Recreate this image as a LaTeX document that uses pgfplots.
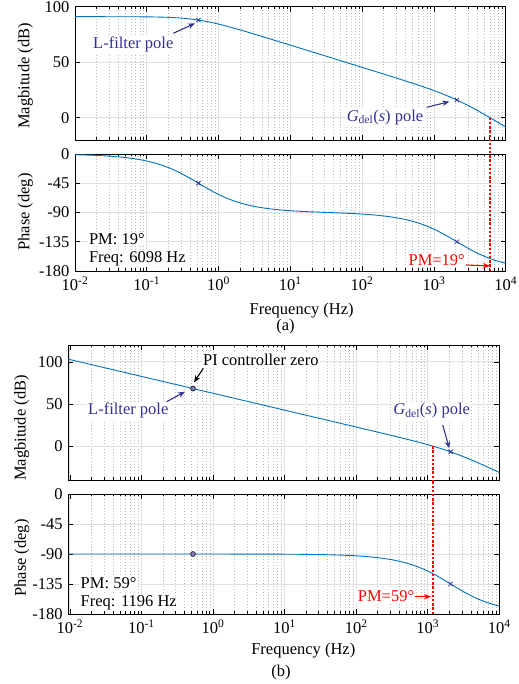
\documentclass[border=0pt]{standalone}
\usepackage{fontspec}
\setmainfont{Liberation Serif}
\usepackage{pgfplots}
\usepackage{pgfplotstable}
\pgfplotsset{compat=1.18}
\usetikzlibrary{arrows.meta}
\definecolor{mblue}{RGB}{0,114,189}
\definecolor{ablue}{RGB}{50,50,150}
\definecolor{pmred}{RGB}{255,0,0}

\pgfplotstableread{
f M P
0.01 91.00 -1.09
0.0104717 91.00 -1.14
0.0131826 91.00 -1.44
0.0165959 91.00 -1.81
0.0208931 90.99 -2.28
0.0263027 90.99 -2.87
0.0331131 90.98 -3.61
0.0416869 90.97 -4.54
0.052481 90.96 -5.71
0.066069 90.93 -7.18
0.083178 90.89 -9.01
0.104717 90.83 -11.29
0.131826 90.73 -14.11
0.165959 90.59 -17.55
0.208931 90.36 -21.71
0.263027 90.03 -26.63
0.331131 89.55 -32.26
0.416869 88.88 -38.47
0.52481 87.99 -45.01
0.66069 86.87 -51.55
0.83178 85.54 -57.77
1.04717 84.03 -63.41
1.31826 82.36 -68.33
1.65959 80.59 -72.50
2.08931 78.73 -75.96
2.63027 76.83 -78.79
3.31131 74.89 -81.08
4.16869 72.93 -82.94
5.2481 70.96 -84.43
6.6069 68.97 -85.64
8.3178 66.98 -86.62
10.4717 64.99 -87.42
13.1826 62.99 -88.08
16.5959 61.00 -88.64
20.8931 59.00 -89.13
26.3027 57.00 -89.58
33.1131 55.00 -90.00
41.6869 53.00 -90.42
52.481 51.00 -90.87
66.069 49.00 -91.36
83.178 46.99 -91.92
104.717 44.99 -92.58
131.826 42.98 -93.38
165.959 40.97 -94.36
208.931 38.96 -95.57
263.027 36.93 -97.06
331.131 34.89 -98.92
416.869 32.83 -101.21
524.81 30.73 -104.04
660.69 28.59 -107.50
831.78 26.36 -111.67
1047.17 24.03 -116.59
1318.26 21.55 -122.23
1659.59 18.88 -128.45
2089.31 15.99 -134.99
2630.27 12.88 -141.53
3311.31 9.55 -147.74
4168.69 6.03 -153.37
5248.1 2.36 -158.29
6606.9 -1.41 -162.45
8317.8 -5.27 -165.90
10000 -8.39 -168.20
}\tabA

\pgfplotstableread{
f M P
0.0095 103.22 -90.00
0.052481 88.38 -90.00
0.52481 68.38 -90.01
5.2481 48.38 -90.14
16.5959 38.38 -90.46
26.3027 34.38 -90.72
33.1131 32.38 -90.91
41.6869 30.38 -91.14
52.481 28.38 -91.44
66.069 26.38 -91.81
83.178 24.37 -92.28
104.717 22.37 -92.87
131.826 20.36 -93.61
165.959 18.35 -94.54
208.931 16.34 -95.71
263.027 14.31 -97.18
331.131 12.27 -99.01
416.869 10.21 -101.28
524.81 8.11 -104.10
660.69 5.97 -107.55
831.78 3.74 -111.71
1047.17 1.41 -116.62
1318.26 -1.08 -122.25
1659.59 -3.75 -128.46
2089.31 -6.63 -135.00
2630.27 -9.75 -141.54
3311.31 -13.08 -147.75
4168.69 -16.59 -153.38
5248.1 -20.26 -158.29
6606.9 -24.03 -162.45
8317.8 -27.89 -165.90
10000 -31.01 -168.20
}\tabB

\pgfplotsset{
  bode/.style={
    scale only axis, clip=false,
    axis line style={line width=0.8bp},
    every tick/.style={black, line width=0.6bp},
    major tick length=5bp, minor tick length=2.5bp,
    xmajorgrids, xminorgrids, ymajorgrids,
    major grid style={draw=black!12, line width=0.8bp},
    minor grid style={draw=black!27, line width=0.5bp, dash pattern=on 0.5bp off 2.5bp},
    xtick={0.01,0.1,1,10,100,1000,10000},
    minor xtick={0.02,0.03,0.04,0.05,0.06,0.07,0.08,0.09,0.2,0.3,0.4,0.5,0.6,0.7,0.8,0.9,2,3,4,5,6,7,8,9,20,30,40,50,60,70,80,90,200,300,400,500,600,700,800,900,2000,3000,4000,5000,6000,7000,8000,9000},
    xticklabels={},
  },
  flab/.style={xticklabels={10\textsuperscript{-2},10\textsuperscript{-1},10\textsuperscript{0},10\textsuperscript{1},10\textsuperscript{2},10\textsuperscript{3},10\textsuperscript{4}}},
  magy/.style={ytick={0,50,100}, yticklabels={0,50,100}},
  phay/.style={ymin=-180, ymax=0, ytick={-180,-135,-90,-45,0}, yticklabels={-180,-135,-90,-45,0}},
  bcurve/.style={color=mblue, line width=0.9bp, no marks},
  xmk/.style={color=ablue, only marks, mark=x, mark size=3bp, line width=0.8bp},
  omk/.style={only marks, mark=*, mark size=2.4bp, mark options={fill=ablue!60, draw=black!85, line width=0.8bp}},
  pml/.style={draw=pmred, color=pmred, line width=1.8bp, dash pattern=on 2.4bp off 1.8bp, no marks},
}
\tikzset{
  ann/.style={fill=white, inner sep=1.5bp},
  arr/.style={-{Stealth[length=7bp,width=5.5bp]}, line width=1.1bp},
}

\begin{document}
\fontsize{16.5bp}{19.8bp}\selectfont
\begin{tikzpicture}
\useasboundingbox (0,0) rectangle (519bp,684bp);
% (a) magnitude
\begin{axis}[xmode=log, bode, magy, at={(75bp,677.3bp)}, anchor=north west, width=430.7bp, height=133.3bp,
  xmin=0.01, xmax=10000, ymin=-20, ymax=100]
\addplot[bcurve] table[x=f,y=M]{\tabA};
\addplot[xmk] coordinates {(0.52481,87.99) (2089.31,15.99)};
\addplot[pml] coordinates {(6098,0) (6098,-20)};
\end{axis}
% (a) phase
\begin{axis}[xmode=log, bode, phay, flab, at={(75bp,530bp)}, anchor=north west, width=430.7bp, height=117bp,
  xmin=0.01, xmax=10000]
\addplot[bcurve] table[x=f,y=P]{\tabA};
\addplot[xmk] coordinates {(0.52481,-45.01) (2089.31,-134.99)};
\addplot[pml] coordinates {(6098,-180) (6098,21.5)};
\end{axis}
% (b) magnitude
\begin{axis}[xmode=log, bode, magy, at={(68.3bp,339bp)}, anchor=north west, width=431bp, height=135bp,
  xmin=0.0095, xmax=10000, ymin=-40, ymax=120]
\addplot[bcurve] table[x=f,y=M]{\tabB};
\addplot[omk] coordinates {(0.52481,68.38)};
\addplot[xmk] coordinates {(2089.31,-6.63)};
\addplot[pml] coordinates {(1196,0) (1196,-40)};
\end{axis}
% (b) phase
\begin{axis}[xmode=log, bode, phay, flab, at={(68.3bp,190bp)}, anchor=north west, width=431bp, height=120bp,
  xmin=0.0095, xmax=10000]
\addplot[bcurve] table[x=f,y=P]{\tabB};
\addplot[omk] coordinates {(0.52481,-90)};
\addplot[xmk] coordinates {(2089.31,-135)};
\addplot[pml] coordinates {(1196,-180) (1196,20.9)};
\end{axis}

% axis labels
\node[rotate=90] at (25.5bp,608.2bp) {Magbitude (dB)};
\node[rotate=90] at (25.5bp,472bp) {Phase (deg)};
\node[rotate=90] at (21.7bp,256bp) {Magbitude (dB)};
\node[rotate=90] at (22bp,126bp) {Phase (deg)};
\node at (301.7bp,373bp) {Frequency (Hz)};
\node at (285.5bp,357bp) {(a)};
\node at (303.3bp,33bp) {Frequency (Hz)};
\node at (281bp,11bp) {(b)};

% (a) annotations
\node[ann, text=ablue] at (133.3bp,640bp) {L-filter pole};
\draw[arr, ablue] (173.3bp,650.7bp) -- (195bp,660.7bp);
\node[ann, text=ablue] at (385bp,566.7bp) {\textit{G}\textsubscript{del}(\textit{s}) pole};
\draw[arr, ablue] (426.7bp,576.7bp) -- (449.3bp,582.3bp);
\node[ann, anchor=west] at (87.3bp,445bp) {PM: 19°};
\node[ann, anchor=west] at (87.3bp,425.7bp) {Freq: 6098 Hz};
\node[ann, text=pmred] at (436.7bp,424bp) {PM=19°};
\draw[arr, pmred] (466bp,419bp) -- (490bp,418bp);

% (b) annotations
\node[ann] at (260.8bp,324bp) {PI controller zero};
\draw[arr, black] (203.3bp,315.7bp) -- (194bp,301.7bp);
\node[ann, text=ablue] at (128.3bp,273.3bp) {L-filter pole};
\draw[arr, ablue] (166.7bp,282.3bp) -- (185bp,292.3bp);
\node[ann, text=ablue] at (431.7bp,273bp) {\textit{G}\textsubscript{del}(\textit{s}) pole};
\draw[arr, ablue] (442.7bp,259bp) -- (449.3bp,235.7bp);
\node[ann, anchor=west] at (79bp,101.3bp) {PM: 59°};
\node[ann, anchor=west] at (79bp,81.7bp) {Freq: 1196 Hz};
\node[ann, text=pmred] at (386bp,88bp) {PM=59°};
\draw[arr, pmred] (414.5bp,87.3bp) -- (431bp,87.3bp);
\end{tikzpicture}
\end{document}
